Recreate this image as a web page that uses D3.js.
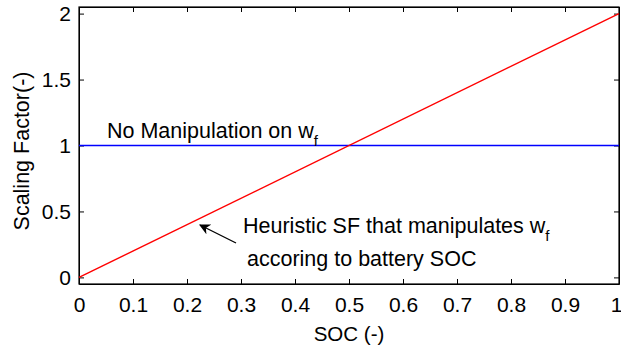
<!DOCTYPE html>
<html>
<head>
<meta charset="utf-8">
<script src="https://cdn.jsdelivr.net/npm/d3@7"></script>
<style>
  body { margin: 0; background: #fff; }
  text { font-family: Arial, "Liberation Sans", sans-serif; fill: #000; }
</style>
</head>
<body>
<div id="chart"></div>
<script>
// data
const socValues = [0, 1];
const heuristicSF = [0, 2];
const noManipSF = [1, 1];
const xTicks = [0, 0.1, 0.2, 0.3, 0.4, 0.5, 0.6, 0.7, 0.8, 0.9, 1];
const yTicks = [0, 0.5, 1, 1.5, 2];

const width = 621, height = 349;
const margin = { top: 7, right: 2, bottom: 65, left: 79 };
const iw = width - margin.left - margin.right;
const ih = height - margin.top - margin.bottom;
const font = 'Arial, "Liberation Sans", sans-serif';

const svg = d3.select('#chart').append('svg')
  .attr('width', width)
  .attr('height', height);

const g = svg.append('g').attr('transform', `translate(${margin.left},${margin.top})`);

const x = d3.scaleLinear().domain([0, 1]).range([0, iw]);
const y = d3.scaleLinear().domain([-0.05, 2.05]).range([ih, 0]);

// axes, ticks pointing inward on all sides
const tickLen = 5;
const xAxis = g.append('g').attr('transform', `translate(0,${ih})`)
  .call(d3.axisBottom(x).tickValues(xTicks).tickFormat(d3.format('')).tickSizeInner(-tickLen).tickSizeOuter(0).tickPadding(13));
g.append('g').call(d3.axisTop(x).tickValues(xTicks).tickFormat('').tickSizeInner(-tickLen).tickSizeOuter(0));
g.append('g')
  .call(d3.axisLeft(y).tickValues(yTicks).tickFormat(d3.format('')).tickSizeInner(-tickLen).tickSizeOuter(0).tickPadding(8));
g.append('g').attr('transform', `translate(${iw},0)`)
  .call(d3.axisRight(y).tickValues(yTicks).tickFormat('').tickSizeInner(-tickLen).tickSizeOuter(0));

g.selectAll('.tick text').style('font-size', '21px').style('font-family', font);
g.selectAll('.domain, .tick line').attr('stroke', '#000').attr('stroke-width', 1);
// keep the last label inside the window
xAxis.selectAll('.tick text').filter(d => d === 1).attr('dx', -3);

g.append('rect').attr('width', iw).attr('height', ih)
  .attr('fill', 'none').attr('stroke', '#000').attr('stroke-width', 1.2);

// lines
const line = d3.line().x(d => x(d[0])).y(d => y(d[1]));
g.append('path')
  .datum(socValues.map((s, i) => [s, noManipSF[i]]))
  .attr('d', line).attr('fill', 'none').attr('stroke', '#0000ff').attr('stroke-width', 1.3);
g.append('path')
  .datum(socValues.map((s, i) => [s, heuristicSF[i]]))
  .attr('d', line).attr('fill', 'none').attr('stroke', '#ff0000').attr('stroke-width', 1.4);

// annotations
const ann1 = svg.append('text').attr('x', 107).attr('y', 138).style('font-size', '21.5px');
ann1.append('tspan').text('No Manipulation on w');
ann1.append('tspan').attr('dy', 8).style('font-size', '15px').text('f');

const ann2 = svg.append('text').attr('x', 243).attr('y', 233).style('font-size', '21.5px');
ann2.append('tspan').text('Heuristic SF that manipulates w');
ann2.append('tspan').attr('dy', 8).style('font-size', '15px').text('f');

svg.append('text').attr('x', 247).attr('y', 266).style('font-size', '21.5px').text('accoring to battery SOC');

// arrow
svg.append('defs').append('marker')
  .attr('id', 'arrowhead').attr('viewBox', '0 0 10 10')
  .attr('refX', 9).attr('refY', 5)
  .attr('markerWidth', 11).attr('markerHeight', 11)
  .attr('markerUnits', 'userSpaceOnUse')
  .attr('orient', 'auto')
  .append('path').attr('d', 'M0,0 L10,5 L0,10 L3,5 Z').attr('fill', '#000');

svg.append('line')
  .attr('x1', 236).attr('y1', 243).attr('x2', 200).attr('y2', 225)
  .attr('stroke', '#000').attr('stroke-width', 1.3)
  .attr('marker-end', 'url(#arrowhead)');

// axis labels
svg.append('text').attr('x', margin.left + iw / 2).attr('y', 341)
  .attr('text-anchor', 'middle').style('font-size', '20.5px').text('SOC (-)');
svg.append('text')
  .attr('transform', `translate(29,151) rotate(-90)`)
  .attr('text-anchor', 'middle').style('font-size', '21.5px').text('Scaling Factor(-)');
</script>
</body>
</html>
